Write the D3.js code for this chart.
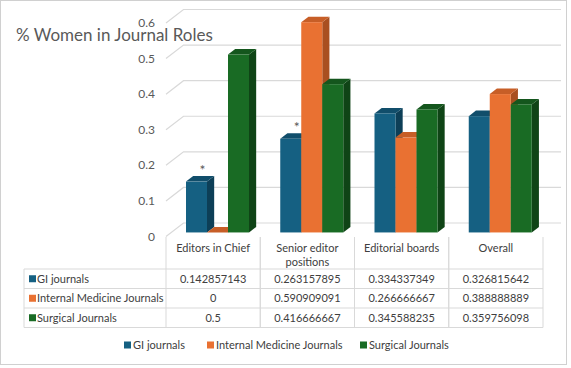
<!DOCTYPE html>
<html><head><meta charset="utf-8">
<script src="https://cdn.jsdelivr.net/npm/d3@7"></script>
<style>html,body{margin:0;padding:0;background:#fff;}svg{display:block;font-family:"Lato",sans-serif;}</style>
</head><body><svg id="c" width="571" height="368"></svg>
<script>
const categories = ["Editors in Chief", "Senior editor positions", "Editorial boards", "Overall"];
const categoryLines = [["Editors in Chief"], ["Senior editor", "positions"], ["Editorial boards"], ["Overall"]];
const seriesNames = ["GI journals", "Internal Medicine Journals", "Surgical Journals"];
const giValues = [0.142857143, 0.263157895, 0.334337349, 0.326815642];
const imValues = [0, 0.590909091, 0.266666667, 0.388888889];
const surgValues = [0.5, 0.416666667, 0.345588235, 0.359756098];
const giLabels = ["0.142857143", "0.263157895", "0.334337349", "0.326815642"];
const imLabels = ["0", "0.590909091", "0.266666667", "0.388888889"];
const surgLabels = ["0.5", "0.416666667", "0.345588235", "0.359756098"];
const yTicks = [0, 0.1, 0.2, 0.3, 0.4, 0.5, 0.6];
const asteriskFlags = [true, true, false, false];

const seriesValues = [giValues, imValues, surgValues];
const seriesLabels = [giLabels, imLabels, surgLabels];
const colors = [
  {front:"#156082", side:"#0d3f57", top:"#114e6b"},
  {front:"#E97132", side:"#a94f20", top:"#c75e27"},
  {front:"#196B24", side:"#0f4416", top:"#14561d"}
];

const svg = d3.select("#c");
const plotL = 166, plotR = 543, backR = 561;
const depthX = 17.5, depthY = -13.5;
const barF = 0.3, barB = 0.71;

svg.append("rect").attr("x",0.5).attr("y",0.5).attr("width",566).attr("height",364)
  .attr("fill","#fff").attr("stroke","#d0d0d0");

const y = d3.scaleLinear().domain([0, 0.6]).range([236.5, 23]);
const x = d3.scaleBand().domain(categories).range([plotL, plotR]).paddingInner(0).paddingOuter(0);
const xs = d3.scaleBand().domain(seriesNames).range([21, 84]);

const grid = svg.append("g");
yTicks.forEach(t => {
  const yf = y(t);
  grid.append("path")
    .attr("d", `M${plotL},${yf}L${plotL+depthX},${yf+depthY}L${backR},${yf+depthY}`)
    .attr("fill","none").attr("stroke","#d9d9d9").attr("stroke-width",1.2);
  grid.append("text").attr("x",155).attr("y",yf+4)
    .attr("text-anchor","end").attr("font-size",12).attr("fill","#595959")
    .text(d3.format("")(t));
});

svg.append("text").attr("x",16).attr("y",40.5).attr("font-size",17).attr("fill","#595959")
  .text("% Women in Journal Roles");

const bars = svg.append("g");
categories.forEach((c, ci) => {
  seriesNames.forEach((s, si) => {
    const v = seriesValues[si][ci];
    const x0 = x(c) + xs(s) - 1;
    const w = xs.bandwidth();
    const yb = y(0) + depthY*barF;
    const yt = y(v) + depthY*barF;
    const dx = depthX*(barB-barF), dy = depthY*(barB-barF);
    const col = colors[si];
    bars.append("path").attr("d",`M${x0+w},${yb}L${x0+w+dx},${yb+dy}L${x0+w+dx},${yt+dy}L${x0+w},${yt}Z`).attr("fill",col.side);
    bars.append("path").attr("d",`M${x0},${yt}L${x0+dx},${yt+dy}L${x0+w+dx},${yt+dy}L${x0+w},${yt}Z`).attr("fill",col.top);
    if (yb - yt > 0) bars.append("rect").attr("x",x0).attr("y",yt).attr("width",w).attr("height",yb-yt).attr("fill",col.front);
    if (si === 0 && asteriskFlags[ci]) {
      svg.append("text").attr("x",x0+w/2+6).attr("y",yt-7).attr("text-anchor","middle")
        .attr("font-size",14).attr("fill","#595959").text("*");
    }
  });
});

const tbl = svg.append("g");
const tableL = 24, headTop = 237, rowTops = [269, 288.5, 308, 327.5];
const lc = "#d9d9d9";
categories.forEach((c) => {
  [x(c), x(c)+x.bandwidth()].forEach(xx => {
    tbl.append("line").attr("x1",xx).attr("x2",xx).attr("y1",headTop).attr("y2",rowTops[3]).attr("stroke",lc);
  });
});
rowTops.forEach(ry => tbl.append("line").attr("x1",tableL).attr("x2",plotR).attr("y1",ry).attr("y2",ry).attr("stroke",lc));
tbl.append("line").attr("x1",tableL).attr("x2",tableL).attr("y1",rowTops[0]).attr("y2",rowTops[3]).attr("stroke",lc);

categories.forEach((c, ci) => {
  const lines = categoryLines[ci];
  lines.forEach((ln, li) => {
    tbl.append("text").attr("x",x(c)+x.bandwidth()/2).attr("y",252+li*14)
      .attr("text-anchor","middle").attr("font-size",11).attr("fill","#404040").text(ln);
  });
});
seriesNames.forEach((s, si) => {
  const cy = (rowTops[si] + rowTops[si+1]) / 2;
  tbl.append("rect").attr("x",29).attr("y",cy-3.5).attr("width",7).attr("height",7).attr("fill",colors[si].front);
  tbl.append("text").attr("x",37).attr("y",cy+4).attr("font-size",11).attr("fill","#404040").text(s);
  categories.forEach((c, ci) => {
    tbl.append("text").attr("x",x(c)+x.bandwidth()/2).attr("y",cy+4).attr("text-anchor","middle")
      .attr("font-size",11).attr("fill","#404040").text(seriesLabels[si][ci]);
  });
});

const leg = svg.append("g");
const legX = [124, 207, 360];
seriesNames.forEach((s, si) => {
  leg.append("rect").attr("x",legX[si]).attr("y",341.5).attr("width",7).attr("height",7).attr("fill",colors[si].front);
  leg.append("text").attr("x",legX[si]+9).attr("y",349).attr("font-size",11).attr("fill","#404040").text(s);
});
</script></body></html>
